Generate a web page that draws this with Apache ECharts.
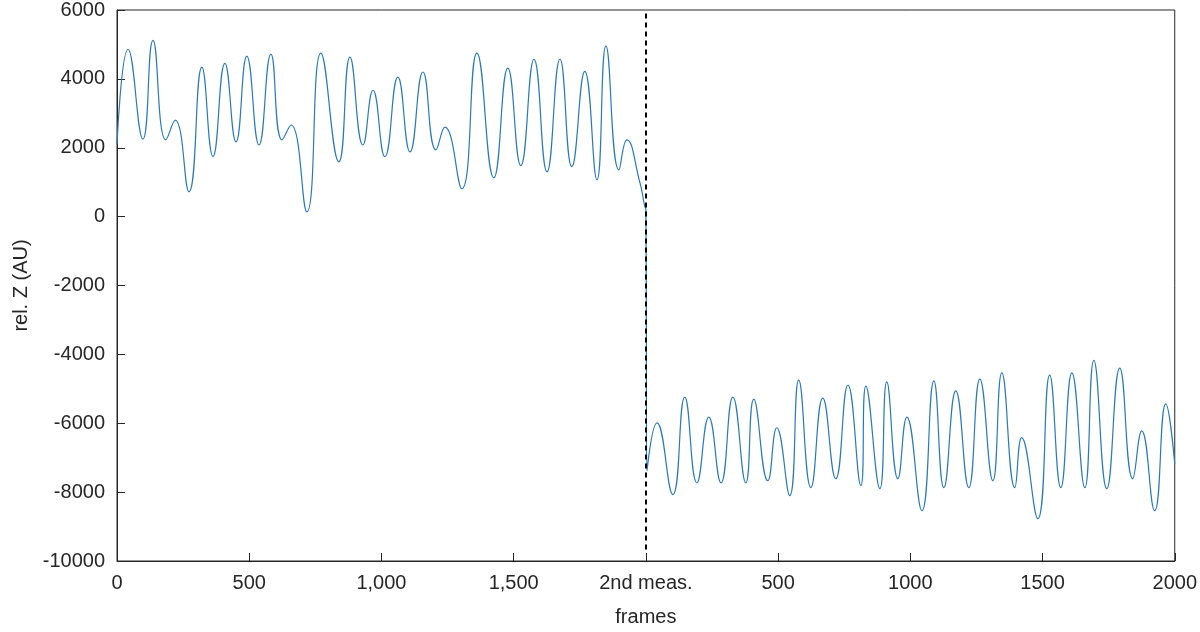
<!DOCTYPE html>
<html>
<head>
<meta charset="UTF-8">
<script src="https://cdn.jsdelivr.net/npm/echarts@6/dist/echarts.min.js"></script>
<style>html,body{margin:0;padding:0;background:#fff}</style>
</head>
<body>
<div id="container" style="width:1200px;height:632px"></div>
<script>
// frame positions (0-2000 first measurement, 2000-4000 second) at local extrema
var frames = [0,42,98,136,185,220,272,321,363,408,450,491,537,582,624,658,718,771,839,881,930,968,1013,1062,1108,1157,1206,1240,1304,1361,1425,1478,1527,1577,1626,1675,1720,1769,1815,1849,1898,1928,1977,1996,2000,
  2004,2042,2102,2147,2193,2238,2284,2329,2378,2408,2461,2495,2544,2578,2624,2669,2718,2764,2813,2832,2885,2911,2953,2987,3044,3089,3127,3172,3221,3263,3312,3346,3395,3421,3482,3527,3569,3611,3660,3694,3743,3792,3841,3875,3924,3966,4000];
var relZ = [2100,4860,2250,5120,2230,2800,720,4340,1740,4450,2170,4660,2080,4720,2230,2660,140,4750,1590,4630,2080,3670,1740,4050,1880,4200,1940,2600,810,4750,1130,4310,1480,4570,1300,4570,1450,4220,1070,4950,1360,2230,1000,290,200,
  -7380,-5990,-8070,-5240,-7730,-5820,-7730,-5240,-7730,-5300,-7670,-6130,-8100,-4750,-7870,-5270,-7610,-4890,-7810,-4920,-7900,-4800,-7610,-5820,-8540,-4770,-7870,-5060,-7870,-4720,-7670,-4540,-7870,-6420,-8770,-4600,-7870,-4540,-7870,-4170,-7900,-4400,-7610,-6220,-8540,-5440,-7180];
var xTickLabels = ['0','500','1,000','1,500','2nd meas.','500','1000','1500','2000'];
var splitFrame = 2000;

var data = [];
for (var i = 0; i < frames.length; i++) data.push([frames[i], relZ[i]]);

var txt = {color:'#262626', fontSize:20, fontFamily:'Liberation Sans, Helvetica, Arial'};
var chart = echarts.init(document.getElementById('container'));
chart.setOption({
  animation:false,
  grid:{left:117, right:25, top:8, bottom:71, show:true, borderColor:'#262626', borderWidth:1},
  xAxis:{type:'value', min:0, max:4000, interval:500,
    name:'frames', nameLocation:'middle', nameGap:46, nameTextStyle:txt,
    axisLine:{onZero:false, lineStyle:{color:'#262626'}}, axisTick:{inside:true, length:8, lineStyle:{color:'#262626'}},
    splitLine:{show:false},
    axisLabel:Object.assign({margin:12, formatter:function(v){return xTickLabels[Math.round(v/500)];}}, txt)},
  yAxis:{type:'value', min:-10000, max:6000, interval:2000,
    name:'rel. Z (AU)', nameLocation:'middle', nameGap:86, nameTextStyle:txt,
    axisLine:{lineStyle:{color:'#262626'}}, axisTick:{inside:true, length:8, lineStyle:{color:'#262626'}},
    splitLine:{show:false},
    axisLabel:Object.assign({margin:12, formatter:function(v){return String(v);}}, txt)},
  series:[{type:'line', data:data, smooth:0.5, showSymbol:false,
    lineStyle:{color:'#2a7ab8', width:1.2},
    markLine:{silent:true, symbol:'none', label:{show:false},
      lineStyle:{color:'#000', type:[5,4], width:2},
      data:[[{coord:[splitFrame,5900]},{coord:[splitFrame,-9700]}]]}}]
});
</script>
</body>
</html>
